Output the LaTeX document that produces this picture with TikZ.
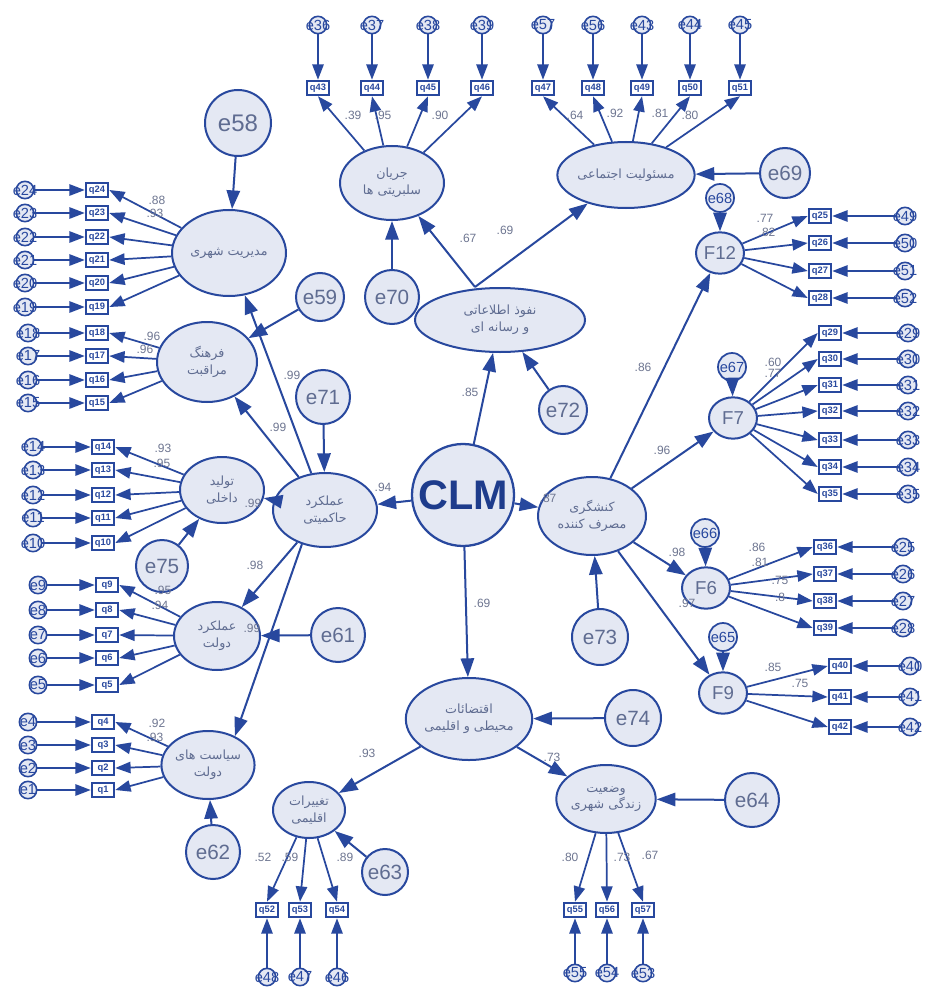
\documentclass[tikz,border=0pt]{standalone}
\usepackage{fontspec}
\setmainfont{Liberation Sans}
\newfontfamily\fa[Script=Arabic]{DejaVu Sans}
\TeXXeTstate=1
\usetikzlibrary{shapes.geometric,arrows.meta}
\definecolor{lc}{RGB}{40,72,158}
\definecolor{lf}{RGB}{228,232,243}
\definecolor{tc}{RGB}{95,108,145}
\definecolor{nc}{RGB}{110,118,145}
\definecolor{clmc}{RGB}{30,60,140}
\tikzset{
 lat/.style={ellipse,draw=lc,fill=lf,line width=1.5pt,inner sep=0pt,text=tc,align=center,font={\fa\fontsize{9.5}{12.5}\selectfont}},
 fac/.style={ellipse,draw=lc,fill=lf,line width=1.5pt,inner sep=0pt,text=tc,minimum width=36pt,minimum height=31pt,font=\fontsize{14}{14}\selectfont},
 bige/.style={circle,draw=lc,fill=lf,line width=1.5pt,inner sep=0pt,text=tc,font=\fontsize{15.5}{15.5}\selectfont},
 sme/.style={circle,draw=lc,fill=lf,line width=1.3pt,inner sep=0pt,minimum size=21pt,text=lc,font=\fontsize{11}{11}\selectfont},
 obs/.style={rectangle,draw=lc,fill=white,line width=1.4pt,minimum width=17pt,minimum height=11pt,inner sep=0.5pt,text=lc,font=\bfseries\fontsize{7}{7}\selectfont},
 ie/.style={circle,draw=lc,fill=lf,line width=1.2pt,minimum size=13pt,inner sep=0pt},
 iet/.style={text=lc,inner sep=0pt,font=\fontsize{11}{11}\selectfont},
 arr/.style={draw=lc,line width=1.5pt,-{Triangle[length=14pt,width=10pt]}},
 iarr/.style={draw=lc,line width=1.3pt,-{Triangle[length=11.5pt,width=8.5pt]}},
 coef/.style={text=nc,inner sep=0pt,font=\fontsize{9}{9}\selectfont}
}
\newcommand\blockL[4]{\foreach \yy/\qq/\ee [count=\i] in {#4}{%
 \node[obs] (#1q\i) at (#2,\yy) {q\qq};
 \node[ie,label={[iet]center:e\ee}] (#1e\i) at (#3,\yy) {};
 \draw[iarr] (#1) -- (#1q\i.east);
 \draw[iarr] (#1e\i) -- (#1q\i.west);}}
\newcommand\blockR[4]{\foreach \yy/\qq/\ee [count=\i] in {#4}{%
 \node[obs] (#1q\i) at (#2,\yy) {q\qq};
 \node[ie,label={[iet]center:e\ee}] (#1e\i) at (#3,\yy) {};
 \draw[iarr] (#1) -- (#1q\i.west);
 \draw[iarr] (#1e\i) -- (#1q\i.east);}}
\newcommand\blockT[4]{\foreach \xx/\qq/\ee [count=\i] in {#4}{%
 \node[obs] (#1q\i) at (\xx,#2) {q\qq};
 \node[ie,label={[iet]center:e\ee}] (#1e\i) at (\xx,#3) {};
 \draw[iarr] (#1) -- (#1q\i.south);
 \draw[iarr] (#1e\i) -- (#1q\i.north);}}
\newcommand\blockB[4]{\foreach \xx/\qq/\ee [count=\i] in {#4}{%
 \node[obs] (#1q\i) at (\xx,#2) {q\qq};
 \node[ie,label={[iet]center:e\ee}] (#1e\i) at (\xx,#3) {};
 \draw[iarr] (#1) -- (#1q\i.north);
 \draw[iarr] (#1e\i) -- (#1q\i.south);}}
\begin{document}
\begin{tikzpicture}[x=0.75pt,y=-0.75pt]
\fill[white] (0,0) rectangle (927,988);
\useasboundingbox (0,0) rectangle (927,988);
% latent variables
\node[circle,draw=lc,fill=lf,line width=1.7pt,minimum size=76.5pt,inner sep=0pt,text=clmc,font=\bfseries\fontsize{31}{31}\selectfont] (clm) at (463,495) {CLM};
\node[lat,minimum width=78pt,minimum height=55.5pt] (amal) at (325,510) {\beginR عملکرد\endR\\\beginR حاکمیتی\endR};
\node[lat,minimum width=81pt,minimum height=58.5pt] (kon) at (592,516) {\beginR کنشگری\endR\\\beginR مصرف کننده\endR};
\node[lat,minimum width=81pt,minimum height=61.5pt] (eq) at (469,719) {\beginR اقتضائات\endR\\\beginR محیطی و اقلیمی\endR};
\node[lat,minimum width=127.5pt,minimum height=48pt] (nof) at (500,320) {\beginR نفوذ اطلاعاتی\endR\\\beginR و رسانه ای\endR};
\node[lat,minimum width=78pt,minimum height=55.5pt] (jar) at (392,183) {\beginR جریان\endR\\\beginR سلبریتی ها\endR};
\node[lat,minimum width=76.5pt,minimum height=49.5pt] (mas) at (626,175) {\beginR مسئولیت اجتماعی\endR};
\node[lat,minimum width=85.5pt,minimum height=64.5pt] (med) at (229,253) {\beginR مدیریت شهری\endR};
\node[lat,minimum width=75pt,minimum height=60pt] (far) at (207,362) {\beginR فرهنگ\endR\\\beginR مراقبت\endR};
\node[lat,minimum width=63pt,minimum height=49.5pt] (tol) at (222,490) {\beginR تولید\endR\\\beginR داخلی\endR};
\node[lat,minimum width=64.5pt,minimum height=51pt] (dol) at (217,636) {\beginR عملکرد\endR\\\beginR دولت\endR};
\node[lat,minimum width=64.5pt,minimum height=51pt] (siy) at (208,765) {\beginR سیاست های\endR\\\beginR دولت\endR};
\node[lat,minimum width=54pt,minimum height=42pt] (tag) at (309,810) {\beginR تغییرات\endR\\\beginR اقلیمی\endR};
\node[lat,minimum width=70.5pt,minimum height=51pt] (vaz) at (606,799) {\beginR وضعیت\endR\\\beginR زندگی شهری\endR};
\node[fac] (F12) at (720,253) {F12};
\node[fac] (F7) at (733,418) {F7};
\node[fac] (F6) at (706,588) {F6};
\node[fac] (F9) at (723,693) {F9};
% disturbances
\node[bige,minimum size=49.5pt,font=\fontsize{18}{18}\selectfont] (e58) at (238,123) {e58};
\node[bige,minimum size=36pt] (e59) at (320,297) {e59};
\node[bige,minimum size=40.5pt] (e70) at (392,297) {e70};
\node[bige,minimum size=40.5pt] (e71) at (323,397) {e71};
\node[bige,minimum size=36pt] (e72) at (563,410) {e72};
\node[bige,minimum size=37.5pt] (e69) at (785,173) {e69};
\node[bige,minimum size=39pt] (e75) at (162,566) {e75};
\node[bige,minimum size=40.5pt] (e61) at (338,635) {e61};
\node[bige,minimum size=40.5pt] (e62) at (213,852) {e62};
\node[bige,minimum size=34.5pt] (e63) at (385,872) {e63};
\node[bige,minimum size=40.5pt] (e64) at (752,800) {e64};
\node[bige,minimum size=42pt] (e74) at (633,718) {e74};
\node[bige,minimum size=42pt] (e73) at (600,637) {e73};
\node[sme] (e68) at (720,198) {e68};
\node[sme] (e67) at (732,367) {e67};
\node[sme] (e66) at (705,533) {e66};
\node[sme] (e65) at (723,637) {e65};
% structural paths
\draw[arr] (clm) -- (nof);
\draw[arr] (e72) -- (nof);
\draw[arr] ([xshift=-18.75pt]nof.north) -- (jar);
\draw[arr] ([xshift=-18.75pt]nof.north) -- (mas);
\draw[arr] (e70) -- (jar);
\draw[arr] (e69) -- (mas);
\draw[arr] (clm) -- (amal);
\draw[arr] (e71) -- (amal);
\draw[arr] (e58) -- (med);
\draw[arr] (amal) -- (med);
\draw[arr] (e59) -- (far);
\draw[arr] (amal) -- (far);
\draw[arr] (amal) -- (tol);
\draw[arr] (e75) -- (tol);
\draw[arr] (amal) -- (dol);
\draw[arr] (e61) -- (dol);
\draw[arr] (amal.236) -- (siy.47);
\draw[arr] (e62) -- (siy);
\draw[arr] (clm) -- (kon);
\draw[arr] (e73) -- (kon);
\draw[arr] (kon) -- (F12);
\draw[arr] (kon) -- (F7);
\draw[arr] (kon) -- (F6);
\draw[arr] (kon) -- (F9);
\draw[arr] (e68) -- (F12);
\draw[arr] (e67) -- (F7);
\draw[arr] (e66) -- (F6);
\draw[arr] (e65) -- (F9);
\draw[arr] (clm) -- (eq);
\draw[arr] (e74) -- (eq);
\draw[arr] (eq) -- (tag);
\draw[arr] (e63) -- (tag);
\draw[arr] (eq) -- (vaz);
\draw[arr] (e64) -- (vaz);
% measurement blocks
\blockL{med}{97}{25}{190/24/24,213/23/23,237/22/22,260/21/21,283/20/20,307/19/19}
\blockL{far}{97}{28}{333/18/18,356/17/17,380/16/16,403/15/15}
\blockL{tol}{103}{33}{447/14/14,470/13/13,495/12/12,518/11/11,543/10/10}
\blockL{dol}{107}{38}{585/9/9,610/8/8,635/7/7,658/6/6,685/5/5}
\blockL{siy}{103}{28}{722/4/4,745/3/3,768/2/2,790/1/1}
\blockR{F12}{820}{905}{216/25/49,243/26/50,271/27/51,298/28/52}
\blockR{F7}{830}{908}{333/29/29,359/30/30,385/31/31,411/32/32,440/33/33,467/34/34,494/35/35}
\blockR{F6}{825}{903}{547/36/25,574/37/26,601/38/27,628/39/28}
\blockR{F9}{840}{910}{666/40/40,697/41/41,727/42/42}
\blockT{jar}{88}{25}{318/43/36,372/44/37,428/45/38,482/46/39}
\blockT{mas}{88}{25}{543/47/57,593/48/56,642/49/43,690/50/44,740/51/45}
\blockB{tag}{910}{977}{267/52/48,300/53/47,337/54/46}
\blockB{vaz}{910}{973}{575/55/55,607/56/54,643/57/53}
% coefficients
\foreach \x/\y/\t [count=\i] in {470/392/.85,468/238/.67,505/230/.69,383/487/.94,548/498/.87,482/603/.69,
 292/375/.99,278/427/.99,253/503/.99,255/565/.98,252/628/.99,
 643/367/.86,662/450/.96,677/552/.98,687/603/.97,367/753/.93,552/757/.73,
 157/200/.88,155/213/.93,152/336/.96,145/349/.96,163/448/.93,162/463/.95,163/590/.95,160/605/.94,157/723/.92,155/737/.93,
 353/115/.39,383/115/.95,440/115/.90,575/115/.64,615/113/.92,660/113/.81,690/115/.80,
 765/218/.77,767/232/.82,773/362/.60,773/373/.77,757/547/.86,760/562/.81,780/580/.75,780/597/.8,773/667/.85,800/683/.75,
 263/857/.52,290/857/.59,345/857/.89,570/857/.80,622/857/.73,650/855/.67}
 \node[coef] (c\i) at (\x,\y) {\t};
\end{tikzpicture}
\end{document}
